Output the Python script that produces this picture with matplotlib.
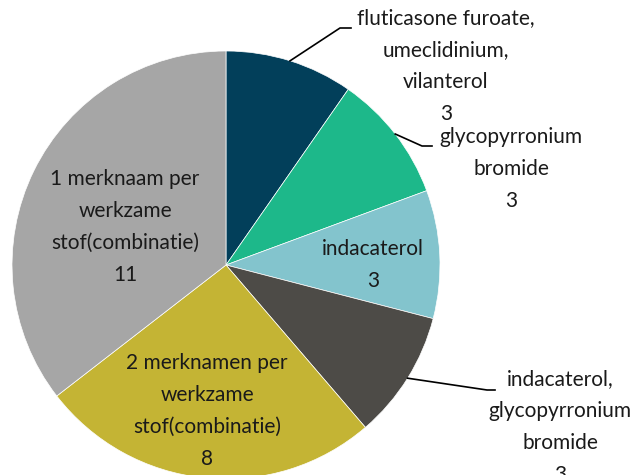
import numpy as np
import matplotlib.pyplot as plt

plt.rcParams['font.family'] = ['Lato', 'DejaVu Sans']

labels = ['fluticasone furoate,\numeclidinium,\nvilanterol',
          'glycopyrronium\nbromide',
          'indacaterol',
          'indacaterol,\nglycopyrronium\nbromide',
          '2 merknamen per\nwerkzame\nstof(combinatie)',
          '1 merknaam per\nwerkzame\nstof(combinatie)']
values = [3, 3, 3, 3, 8, 11]
colors = ['#023f5a', '#1db88a', '#83c4cd', '#4d4b47', '#c4b434', '#a6a6a6']

W, H = 634, 475
cx, cy, R = 226, 265, 214   # pie centre / radius in pixels


def px(x, y):
    # pixel (from top-left) -> data coords (pie radius = 1)
    return (x - cx) / R, (cy - y) / R


fig = plt.figure(figsize=(W / 100, H / 100), dpi=100)
ax = fig.add_axes([0, 0, 1, 1])
ax.pie(values, colors=colors, startangle=90, counterclock=False, radius=1,
       wedgeprops=dict(edgecolor='white', linewidth=0.5))
ax.set_xlim(-cx / R, (W - cx) / R)
ax.set_ylim(-(H - cy) / R, cy / R)
ax.set_aspect('auto')
ax.axis('off')

# label text positions (pixel centre of the text block) and leader elbows
label_pos = [(446, 66), (511, 169), (373, 265), (560, 427), (207, 411), (125, 227)]
elbows = [((340, 28), (351, 28)), ((422, 146), (432, 146)), None,
          ((487, 390), (495, 390)), None, None]

total = sum(values)
cum = 0
for i, (lab, v) in enumerate(zip(labels, values)):
    mid = np.deg2rad(90 - (cum + v / 2) / total * 360)
    cum += v
    tx, ty = px(*label_pos[i])
    ax.text(tx, ty, f'{lab}\n{v}', ha='center', va='center', fontsize=15,
            color='#1a1a1a', linespacing=1.75)
    if elbows[i] is not None:
        (ex, ey), (hx, hy) = elbows[i]
        xs = [np.cos(mid), px(ex, ey)[0], px(hx, hy)[0]]
        ys = [np.sin(mid), px(ex, ey)[1], px(hx, hy)[1]]
        ax.plot(xs, ys, color='black', linewidth=1.2, clip_on=False)

fig.savefig('out.png', dpi=100)
